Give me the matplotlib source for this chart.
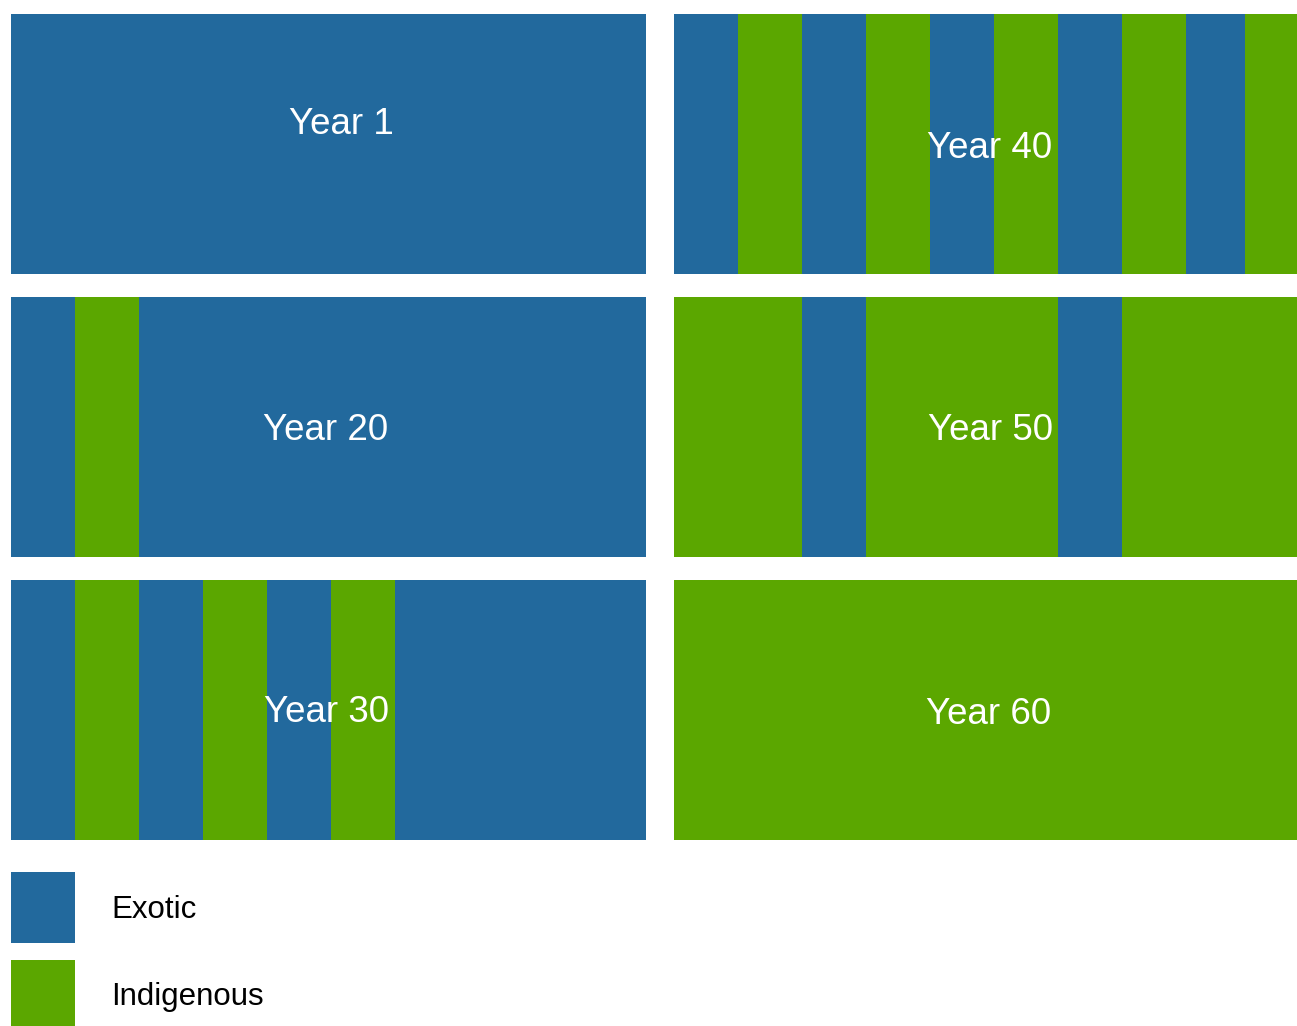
import matplotlib.pyplot as plt

# strip sequences per snapshot: E = exotic, I = indigenous
years = ["Year 1", "Year 20", "Year 30", "Year 40", "Year 50", "Year 60"]
strips = [
    list("EEEEEEEEEE"),
    list("EIEEEEEEEE"),
    list("EIEIEIEEEE"),
    list("EIEIEIEIEI"),
    list("IIEIIIEIII"),
    list("IIIIIIIIII"),
]
legend_labels = ["Exotic", "Indigenous"]
colors = {"E": "#22699d", "I": "#5ba700"}

W, H = 1297, 1026
fig = plt.figure(figsize=(W / 100, H / 100), dpi=100)
plt.rcParams['font.family'] = ['Liberation Sans', 'DejaVu Sans']

# panel boxes in pixels
cols = [(11, 646), (674, 1297)]
rows = [(14, 274), (297, 557), (580, 840)]
# strip widths (px) per column
col_widths = [[64] * 10, [64] * 8 + [59, 52]]
# label centres in pixels (x, y)
label_pos = [(341, 125), (326, 431), (326, 713), (990, 148), (990, 431), (989, 714)]

for k, (name, seq) in enumerate(zip(years, strips)):
    c = k // 3
    r = k % 3
    x0, x1 = cols[c]
    y0, y1 = rows[r]
    ax = fig.add_axes([x0 / W, 1 - y1 / H, (x1 - x0) / W, (y1 - y0) / H])
    widths = col_widths[c]
    lefts = [sum(widths[:i]) for i in range(len(widths))]
    ax.bar(lefts, [1] * len(seq), width=widths, align='edge',
           color=[colors[s] for s in seq], linewidth=0)
    ax.set_xlim(0, x1 - x0)
    ax.set_ylim(0, 1)
    ax.axis('off')
    lx, ly = label_pos[k]
    fig.text(lx / W, 1 - ly / H, name, color='white', fontsize=26.5,
             ha='center', va='center')

# legend
leg_y = [(872, 943), (960, 1031)]
for lab, key, (ya, yb) in zip(legend_labels, ["E", "I"], leg_y):
    fig.patches.append(plt.Rectangle((11 / W, 1 - yb / H), 64 / W, (yb - ya) / H,
                                     transform=fig.transFigure, color=colors[key], lw=0))
    fig.text(111 / W, 1 - ((ya + yb) / 2 + 2) / H, lab, fontsize=22.5,
             ha='left', va='center')

fig.savefig("out.png", dpi=100)
